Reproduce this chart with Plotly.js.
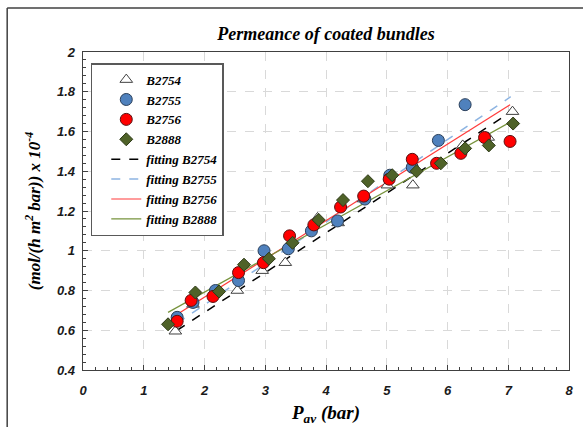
<!DOCTYPE html>
<html>
<head>
<meta charset="utf-8">
<script src="https://cdn.plot.ly/plotly-3.0.1.min.js"></script>
<style>html,body{margin:0;padding:0;background:#fff;}#chart{width:583px;height:427px;}</style>
</head>
<body>
<div id="chart"></div>
<script>
// Data
var pav_B2754 = [1.52, 1.81, 2.18, 2.54, 2.95, 3.33, 3.86, 4.20, 4.62, 5.01, 5.43, 6.25, 6.67, 7.07];
var perm_B2754 = [0.595, 0.73, 0.79, 0.80, 0.90, 0.94, 1.165, 1.14, 1.26, 1.33, 1.33, 1.53, 1.57, 1.70];

var pav_B2755 = [1.55, 1.81, 2.18, 2.56, 2.98, 3.38, 3.76, 4.19, 4.64, 5.05, 5.42, 5.85, 6.29];
var perm_B2755 = [0.665, 0.74, 0.80, 0.85, 1.00, 1.01, 1.10, 1.15, 1.26, 1.38, 1.42, 1.555, 1.735];

var pav_B2756 = [1.55, 1.78, 2.14, 2.56, 2.97, 3.40, 3.80, 4.24, 4.62, 5.04, 5.42, 5.82, 6.22, 6.61, 7.03];
var perm_B2756 = [0.645, 0.75, 0.77, 0.89, 0.94, 1.075, 1.13, 1.22, 1.275, 1.36, 1.46, 1.44, 1.49, 1.57, 1.55];

var pav_B2888 = [1.40, 1.85, 2.24, 2.65, 3.06, 3.45, 3.88, 4.28, 4.69, 5.09, 5.49, 5.89, 6.29, 6.68, 7.08];
var perm_B2888 = [0.63, 0.79, 0.795, 0.93, 0.96, 1.04, 1.155, 1.255, 1.35, 1.38, 1.40, 1.44, 1.515, 1.53, 1.64];

// Fitted lines (end points)
var fitX_B2754 = [1.55, 7.05], fitY_B2754 = [0.60, 1.70];
var fitX_B2755 = [1.55, 7.04], fitY_B2755 = [0.635, 1.775];
var fitX_B2756 = [1.50, 7.03], fitY_B2756 = [0.67, 1.735];
var fitX_B2888 = [1.40, 7.05], fitY_B2888 = [0.69, 1.65];

var serif = '"Liberation Serif", "Times New Roman", serif';
var sans = '"Liberation Sans", Arial, sans-serif';

function fit(x, y, name, color, dash, width, rank) {
  return {x: x, y: y, mode: 'lines', type: 'scatter', name: name, legendrank: rank,
    line: {color: color, dash: dash, width: width}};
}
function pts(x, y, name, symbol, fill, edge, size, rank) {
  return {x: x, y: y, mode: 'markers', type: 'scatter', name: name, legendrank: rank,
    marker: {symbol: symbol, color: fill, size: size, line: {color: edge, width: 1}}};
}

var traces = [
  fit(fitX_B2754, fitY_B2754, 'fitting B2754', '#000000', 'dash', 1.5, 5),
  fit(fitX_B2755, fitY_B2755, 'fitting B2755', '#8db4e2', 'dash', 1.5, 6),
  fit(fitX_B2756, fitY_B2756, 'fitting B2756', '#ff3b3b', 'solid', 1.2, 7),
  fit(fitX_B2888, fitY_B2888, 'fitting B2888', '#77933c', 'solid', 1.2, 8),
  pts(pav_B2754, perm_B2754, 'B2754', 'triangle-up', '#ffffff', '#404040', 11, 1),
  pts(pav_B2755, perm_B2755, 'B2755', 'circle', '#4f81bd', '#2a3f5a', 12, 2),
  pts(pav_B2756, perm_B2756, 'B2756', 'circle', '#ff0000', '#5a1010', 12, 3),
  pts(pav_B2888, perm_B2888, 'B2888', 'diamond', '#4f6228', '#2e3a17', 10, 4)
];

var tickFont = {family: sans, size: 13, color: '#1a1a1a', weight: 'bold', style: 'italic'};

var layout = {
  width: 583, height: 427,
  margin: {l: 83, r: 14, t: 52, b: 57},
  paper_bgcolor: '#ffffff', plot_bgcolor: '#ffffff',
  title: {text: 'Permeance of coated bundles', x: 0.5, xref: 'paper', xanchor: 'center', y: 0.922, yanchor: 'middle',
    font: {family: serif, size: 18, color: '#000', weight: 'bold', style: 'italic'}},
  xaxis: {
    range: [0, 8], dtick: 1, tick0: 0, fixedrange: true,
    showline: true, linecolor: '#404040', linewidth: 1.3, mirror: true,
    ticks: 'inside', ticklen: 5, tickcolor: '#404040',
    minor: {dtick: 0.2, ticks: 'inside', ticklen: 3, tickcolor: '#404040', showgrid: false},
    showgrid: true, gridcolor: '#d9d9d9', griddash: 'dash', gridwidth: 1,
    zeroline: false, tickfont: tickFont, ticklabelstandoff: 8,
    title: {text: 'P<sub>av</sub> (bar)', standoff: 8, font: {family: serif, size: 19, color: '#000', weight: 'bold', style: 'italic'}}
  },
  yaxis: {
    range: [0.4, 2], dtick: 0.2, tick0: 0.4, fixedrange: true,
    showline: true, linecolor: '#404040', linewidth: 1.3, mirror: true,
    ticks: 'inside', ticklen: 5, tickcolor: '#404040',
    minor: {dtick: 0.04, ticks: 'inside', ticklen: 3, tickcolor: '#404040', showgrid: false},
    showgrid: true, gridcolor: '#d9d9d9', griddash: 'dash', gridwidth: 1,
    zeroline: false, tickfont: tickFont, ticklabelstandoff: 4,
    title: {text: '(mol/(h m<sup>2</sup> bar)) x 10<sup>-4</sup>', standoff: 12, font: {family: serif, size: 17, color: '#000', weight: 'bold', style: 'italic'}}
  },
  legend: {
    x: 0.016, y: 0.965, xanchor: 'left', yanchor: 'top',
    bgcolor: '#ffffff', bordercolor: '#595959', borderwidth: 1.5,
    itemwidth: 30, indentation: 14,
    font: {family: serif, size: 13, color: '#000', weight: 'bold', style: 'italic'}
  },
  showlegend: true,
  shapes: [
    {type: 'line', xref: 'paper', yref: 'paper', x0: -0.156, x1: -0.156, y0: -0.2, y1: 1.138, line: {color: '#404040', width: 1.5}},
    {type: 'line', xref: 'paper', yref: 'paper', x0: -0.156, x1: 1.05, y0: 1.138, y1: 1.138, line: {color: '#404040', width: 1.5}}
  ]
};

Plotly.newPlot('chart', traces, layout, {displayModeBar: false, staticPlot: true});
</script>
</body>
</html>
